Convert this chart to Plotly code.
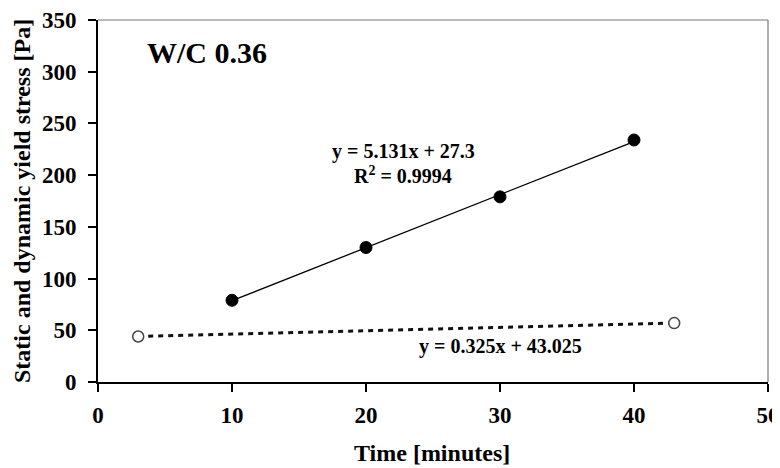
import plotly.graph_objects as go

# Data
static_time = [10, 20, 30, 40]
static_stress = [79, 130, 179, 234]
dynamic_time = [3, 43]
dynamic_stress = [44, 57]
static_trend_x = [10, 40]
static_trend_y = [78.6, 232.5]
dynamic_trend_x = [3, 43]
dynamic_trend_y = [44.0, 57.0]
x_ticks = [0, 10, 20, 30, 40, 50]
y_ticks = [0, 50, 100, 150, 200, 250, 300, 350]

FONT = "Liberation Serif"

fig = go.Figure()
fig.add_trace(go.Scatter(x=static_trend_x, y=static_trend_y, mode="lines",
                         line=dict(color="black", width=1.3), showlegend=False, hoverinfo="skip"))
fig.add_trace(go.Scatter(x=dynamic_trend_x, y=dynamic_trend_y, mode="lines",
                         line=dict(color="#111", width=3, dash="5px,5px"),
                         showlegend=False, hoverinfo="skip"))
fig.add_trace(go.Scatter(x=static_time, y=static_stress, mode="markers",
                         marker=dict(color="black", size=12, line=dict(color="black", width=1)),
                         showlegend=False))
fig.add_trace(go.Scatter(x=dynamic_time, y=dynamic_stress, mode="markers",
                         marker=dict(color="white", size=11, line=dict(color="#444", width=1.5)),
                         showlegend=False))

tickfont = dict(family=FONT, size=23, color="black", weight="bold")


def note(text, x, y, size, angle=0):
    return dict(text=text, xref="paper", yref="paper", x=x, y=y, xanchor="center",
                yanchor="middle", textangle=angle, showarrow=False,
                font=dict(family=FONT, size=size, color="black"))


fig.update_layout(
    width=780, height=468,
    margin=dict(l=90, r=20, t=12, b=94),
    paper_bgcolor="white", plot_bgcolor="white",
    font=dict(family=FONT, color="black", size=16),
    xaxis=dict(range=[0, 50], tickvals=x_ticks, showgrid=False, zeroline=False,
               showline=True, linecolor="black", linewidth=2, automargin=False,
               ticks="outside", ticklen=8, tickwidth=1.5, tickcolor="black",
               tickfont=tickfont, ticklabelstandoff=3),
    yaxis=dict(range=[0, 350], tickvals=y_ticks, showgrid=False, zeroline=False,
               showline=True, linecolor="black", linewidth=2, automargin=False,
               ticks="outside", ticklen=8, tickwidth=1.5, tickcolor="black",
               tickfont=tickfont, ticklabelstandoff=7),
    shapes=[
        dict(type="line", xref="paper", yref="paper", x0=0, x1=1, y0=1, y1=1,
             line=dict(color="#777", width=1.2)),
        dict(type="line", xref="paper", yref="paper", x0=1, x1=1, y0=0, y1=1,
             line=dict(color="#777", width=1.2)),
    ],
    annotations=[
        note("<b>Time [minutes]</b>", 0.4985, -0.196, 24),
        note("<b>Static and dynamic yield stress [Pa]</b>", -0.1134, 0.5, 24, -90),
        note("<b>W/C 0.36</b>", 0.163, 0.910, 30),
        note("<b>y = 5.131x + 27.3</b>", 0.456, 0.637, 20),
        note("<b>R<sup>2</sup> = 0.9994</b>", 0.455, 0.572, 20),
        note("<b>y = 0.325x + 43.025</b>", 0.600, 0.097, 20),
    ],
)

fig.write_html("out.html")
